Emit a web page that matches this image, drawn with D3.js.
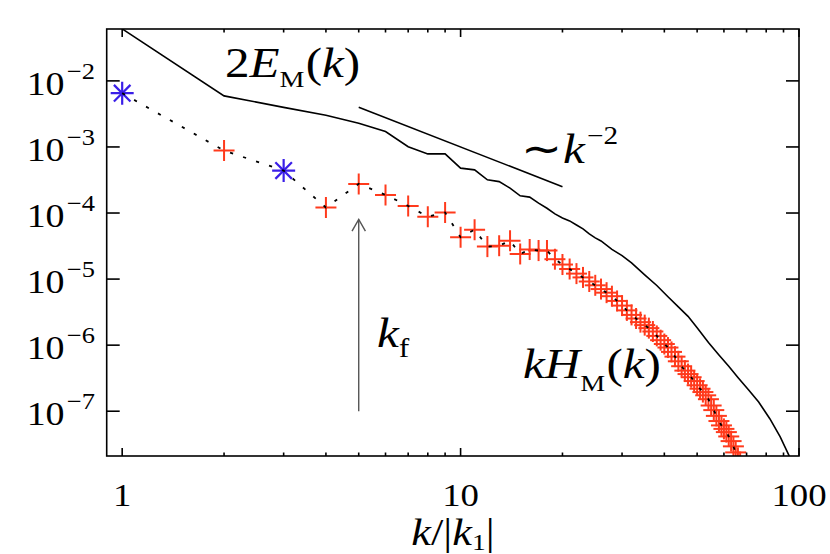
<!DOCTYPE html>
<html><head><meta charset="utf-8">
<script src="https://cdn.jsdelivr.net/npm/d3@7"></script>
<style>
html,body{margin:0;padding:0;background:#fff;}
</style></head>
<body><svg id="c" width="830" height="554"></svg>
<script>
// ---------- data ----------
const xDomain = [0.9, 100];
const yDomain = [2.1e-8, 6.1e-2];
const xMajorTicks = [1, 10, 100];
const xMajorLabels = ["1", "10", "100"];
const xMinorTicks = [2,3,4,5,6,7,8,9,20,30,40,50,60,70,80,90];
const yTicks = [1e-2, 1e-3, 1e-4, 1e-5, 1e-6, 1e-7];
const yTickExp = ["\u22122","\u22123","\u22124","\u22125","\u22126","\u22127"];

// 2E_M(k) (solid line)
const eK = [1,2,3,4,5,6,7,8,9,10,11,12,13,14,15,16,17,18,19,20,21,22,23,24,25,26,28,30,32,35,38,41,44,47,50,54,58,62,66,71,76,82,88,94];
const eV = [6.12e-2,5.93e-3,3.97e-3,3.01e-3,2.28e-3,1.71e-3,1.01e-3,7.85e-4,7.85e-4,4.78e-4,4.50e-4,3.18e-4,2.99e-4,2.38e-4,1.82e-4,1.74e-4,1.41e-4,1.18e-4,9.7e-5,8.4e-5,7.6e-5,6.6e-5,5.75e-5,4.83e-5,4.21e-5,3.78e-5,2.82e-5,2.27e-5,1.76e-5,1.16e-5,8.0e-6,5.4e-6,3.8e-6,2.73e-6,1.83e-6,1.10e-6,7.1e-7,4.8e-7,3.25e-7,2.10e-7,1.38e-7,7.7e-8,4.1e-8,2.0e-8];

// kH_M(k) (markers + dotted line)
const hK = d3.range(1, 69);
const hV = [6.52e-3,8.8e-4,4.39e-4,1.21e-4,2.76e-4,1.88e-4,1.28e-4,8.8e-5,1.02e-4,4.3e-5,
            5.6e-5,3.1e-5,3.2e-5,3.8e-5,2.4e-5,2.8e-5,2.7e-5,2.7e-5,2.0e-5,1.66e-5,
            1.42e-5,1.21e-5,1.06e-5,9.2e-6,8.05e-6,7.06e-6,6.23e-6,5.51e-6,4.67e-6,3.97e-6,
            3.36e-6,2.87e-6,2.53e-6,2.23e-6,2.01e-6,1.81e-6,1.61e-6,1.38e-6,1.19e-6,1.04e-6,
            9.2e-7,7.9e-7,6.7e-7,5.7e-7,4.8e-7,4.12e-7,3.65e-7,3.27e-7,2.86e-7,2.47e-7,
            2.19e-7,1.95e-7,1.74e-7,1.52e-7,1.22e-7,1.04e-7,8.5e-8,7.1e-8,6.1e-8,5.4e-8,
            4.83e-8,4.15e-8,3.53e-8,2.94e-8,2.38e-8,1.97e-8,1.7e-8,1.45e-8];
const hNegativeK = [1, 3];   // drawn as blue asterisks

// reference power law ~k^-2
const powK = [5, 20];
const powV = [4.0e-3, 2.5e-4];

// forcing arrow
const arrowK = 5;
const arrowV = [1e-7, 8e-5];

// ---------- layout ----------
const FONT = "Liberation Serif";
const SX = 1.17;   // horizontal stretch of the original figure's glyphs
const L = 106.7, R = 799, T = 29, B = 456;
const svg = d3.select("#c");
const x = d3.scaleLog().domain(xDomain).range([L, R]);
const y = d3.scaleLog().domain(yDomain).range([B, T]);

svg.append("defs").append("clipPath").attr("id","clip")
  .append("rect").attr("x",L).attr("y",T).attr("width",R-L).attr("height",B-T);

const plot = svg.append("g").attr("clip-path","url(#clip)");

const line = d3.line().x(d=>x(d[0])).y(d=>y(d[1]));
plot.append("path").datum(eK.map((k,i)=>[k,eV[i]]))
  .attr("d", line).attr("fill","none").attr("stroke","#000").attr("stroke-width",1.6);

plot.append("path").datum(powK.map((k,i)=>[k,powV[i]]))
  .attr("d", line).attr("fill","none").attr("stroke","#000").attr("stroke-width",1.6);

// markers
const hData = hK.map((k,i)=>({k, v:hV[i], neg: hNegativeK.includes(k)}));
const red = "#ff3a1c", blue = "#3a1ee8";
const s = 10.5, sa = 11.5;
hData.forEach(d=>{
  const cx = x(d.k), cy = y(d.v);
  const g = plot.append("g").attr("transform",`translate(${cx},${cy})`);
  if (d.neg) {
    const a = sa*0.72;
    [[-sa,0,sa,0],[0,-sa,0,sa],[-a,-a,a,a],[-a,a,a,-a]].forEach(p=>
      g.append("line").attr("x1",p[0]).attr("y1",p[1]).attr("x2",p[2]).attr("y2",p[3])
        .attr("stroke",blue).attr("stroke-width",2.2));
  } else {
    [[-s,0,s,0],[0,-s,0,s]].forEach(p=>
      g.append("line").attr("x1",p[0]).attr("y1",p[1]).attr("x2",p[2]).attr("y2",p[3])
        .attr("stroke",red).attr("stroke-width",2));
  }
});

// dotted connecting line
plot.append("path").datum(hData.map(d=>[d.k,d.v]))
  .attr("d", line).attr("fill","none").attr("stroke","#000")
  .attr("stroke-width",1.8).attr("stroke-dasharray","3.2,10.5");

// arrow
const ax = x(arrowK), ay0 = y(arrowV[0]), ay1 = y(arrowV[1]);
svg.append("line").attr("x1",ax).attr("x2",ax).attr("y1",ay0).attr("y2",ay1)
  .attr("stroke","#555").attr("stroke-width",1.4);
svg.append("path").attr("d",`M${ax-6.7},${ay1+11.7}L${ax},${ay1}L${ax+6.7},${ay1+11.7}`)
  .attr("fill","none").attr("stroke","#555").attr("stroke-width",1.4);

// ---------- axes ----------
const axG = svg.append("g").attr("stroke","#000").attr("stroke-width",1.6);
axG.append("rect").attr("x",L).attr("y",T).attr("width",R-L).attr("height",B-T).attr("fill","none");
xMajorTicks.forEach(t=>{
  axG.append("line").attr("x1",x(t)).attr("x2",x(t)).attr("y1",B).attr("y2",B-8);
  axG.append("line").attr("x1",x(t)).attr("x2",x(t)).attr("y1",T).attr("y2",T+8);
});
xMinorTicks.forEach(t=>{
  axG.append("line").attr("x1",x(t)).attr("x2",x(t)).attr("y1",B).attr("y2",B-3.5);
  axG.append("line").attr("x1",x(t)).attr("x2",x(t)).attr("y1",T).attr("y2",T+3.5);
});
yTicks.forEach(t=>{
  axG.append("line").attr("x1",L).attr("x2",L+13).attr("y1",y(t)).attr("y2",y(t));
  axG.append("line").attr("x1",R).attr("x2",R-13).attr("y1",y(t)).attr("y2",y(t));
});

function txt(xp, yp, size, sx){
  return svg.append("text").attr("x",0).attr("y",0)
    .attr("transform",`translate(${xp},${yp}) scale(${sx||SX},1)`)
    .attr("font-size",size).attr("font-family",FONT).attr("fill","#000");
}

// tick labels
xMajorTicks.forEach((t,i)=>{
  txt(x(t), 506, 32, 1.15).attr("text-anchor","middle").text(xMajorLabels[i]);
});
yTicks.forEach((t,i)=>{
  const tx = txt(95, y(t)+14, 33, 1.15).attr("text-anchor","end");
  tx.append("tspan").text("10");
  tx.append("tspan").attr("font-size",23).attr("dx",2).attr("dy",-16).text(yTickExp[i]);
});

// x axis title
const xt = txt(453, 545, 37, 1.2).attr("text-anchor","middle");
xt.append("tspan").attr("font-style","italic").text("k");
xt.append("tspan").text("/|");
xt.append("tspan").attr("font-style","italic").text("k");
xt.append("tspan").attr("font-size",23).attr("dy",5).text("1");
xt.append("tspan").attr("dy",-5).text("|");

// curve labels
function lab(x0, y0, parts){
  const t = txt(x0, y0, 42);
  parts.forEach(p=>{
    const ts = t.append("tspan").text(p.t);
    if (p.i) ts.attr("font-style","italic");
    if (p.s) ts.attr("font-size",p.s);
    if (p.dy) ts.attr("dy",p.dy);
    if (p.dx) ts.attr("dx",p.dx);
  });
}
lab(225, 77, [{t:"2"},{t:"E",i:1},{t:"M",s:24,dy:10},{t:"(",dy:-10,dx:1},{t:"k",i:1},{t:")"}]);
lab(521, 163, [{t:"\u223C"},{t:"k",i:1},{t:"\u22122",s:25,dy:-19,dx:2}]);
lab(523, 378, [{t:"k",i:1},{t:"H",i:1},{t:"M",s:24,dy:13},{t:"(",dy:-13,dx:1},{t:"k",i:1},{t:")"}]);
lab(377, 347, [{t:"k",i:1},{t:"f",s:27,dy:10}]);
</script></body></html>
